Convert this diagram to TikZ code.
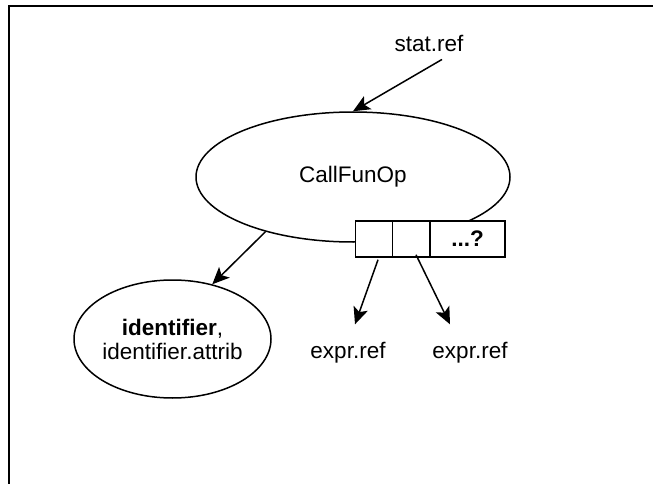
\documentclass[tikz,border=0pt]{standalone}
\usepackage{fontspec}
\setmainfont{Liberation Sans}
\usetikzlibrary{shapes.geometric,arrows.meta,calc}
\begin{document}
\begin{tikzpicture}[x=1pt,y=-1pt,
  lbl/.style={font=\fontsize{22.5}{26}\selectfont, inner sep=0pt},
  oval/.style={draw, ellipse, line width=1.5pt, inner sep=0pt},
  cell/.style={draw, fill=white, line width=1.5pt, minimum height=36pt, inner sep=0pt},
  conn/.style={line width=1.5pt, -{Stealth[length=17pt,width=15pt,inset=4pt]}}]
\useasboundingbox (0,0) rectangle (653,484);
\draw[line width=2pt] (9,484) -- (9,6) -- (653,6);
% main ellipse
\node[oval, minimum width=314pt, minimum height=130pt] (main) at (353,177) {};
\node[lbl] (mainlbl) at (353,177) {CallFunOp};
% box cells
\node[cell, minimum width=37pt] (c1) at (374,239) {};
\node[cell, minimum width=37pt] (c2) at (411,239) {};
\node[cell, minimum width=75pt, font=\fontsize{22.5}{26}\selectfont\bfseries] (c3) at (467.5,239) {...?};
% identifier ellipse
\node[oval, minimum width=197pt, minimum height=118pt] (id) at (172.5,339) {};
\node[lbl, align=center] (idlbl) at (172.5,339) {\textbf{identifier},\\[-2pt]identifier.attrib};
% labels
\node[lbl] (stat) at (429,43) {stat.ref};
\node[lbl] (e1) at (348,353) {expr.ref};
\node[lbl] (e2) at (470,353) {expr.ref};
% connectors
\draw[conn] ($(stat.south)+(13,8)$) -- (main.north);
\draw[conn] (main.212) -- (id.54);
\draw[conn] ($(c1.south)+(4,2)$) -- ($(e1.north)+(7,-18)$);
\draw[conn] ($(c2.south)+(5,-3)$) -- ($(e2.north)+(-20,-18)$);
\end{tikzpicture}
\end{document}
